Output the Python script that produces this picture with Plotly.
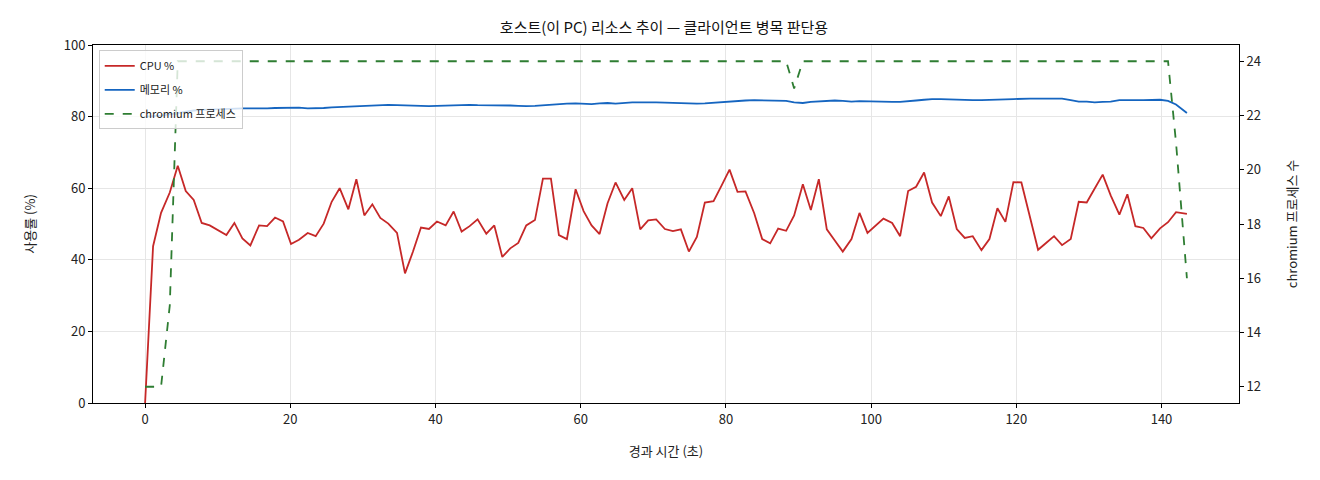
import plotly.graph_objects as go

# 경과 시간 (초)
elapsed_s = [
    0.0, 1.1, 2.2, 3.4, 4.5, 5.6, 6.7, 7.8, 8.9, 10.1,
    11.2, 12.3, 13.4, 14.5, 15.7, 16.8, 17.9, 19.0, 20.1, 21.2,
    22.4, 23.5, 24.6, 25.7, 26.8, 28.0, 29.1, 30.2, 31.3, 32.4,
    33.5, 34.7, 35.8, 36.9, 38.0, 39.1, 40.2, 41.4, 42.5, 43.6,
    44.7, 45.8, 47.0, 48.1, 49.2, 50.3, 51.4, 52.5, 53.7, 54.8,
    55.9, 57.0, 58.1, 59.3, 60.4, 61.5, 62.6, 63.7, 64.8, 66.0,
    67.1, 68.2, 69.3, 70.4, 71.6, 72.7, 73.8, 74.9, 76.0, 77.1,
    78.3, 79.4, 80.5, 81.6, 82.7, 83.9, 85.0, 86.1, 87.2, 88.3,
    89.4, 90.6, 91.7, 92.8, 93.9, 95.0, 96.1, 97.3, 98.4, 99.5,
    100.6, 101.7, 102.9, 104.0, 105.1, 106.2, 107.3, 108.4, 109.6, 110.7,
    111.8, 112.9, 114.0, 115.2, 116.3, 117.4, 118.5, 119.6, 120.7, 121.9,
    123.0, 124.1, 125.2, 126.3, 127.5, 128.6, 129.7, 130.8, 131.9, 133.0,
    134.2, 135.3, 136.4, 137.5, 138.6, 139.8, 140.9, 142.0, 143.5,
]

cpu_pct = [
    0.0, 43.8, 53.1, 58.8, 66.3, 59.2, 56.7, 50.3, 49.6, 48.3,
    46.9, 50.3, 46.0, 44.0, 49.6, 49.4, 51.8, 50.7, 44.4, 45.6,
    47.5, 46.6, 50.1, 56.2, 60.0, 54.1, 62.5, 52.4, 55.5, 51.7,
    50.1, 47.5, 36.2, 42.3, 49.0, 48.6, 50.7, 49.6, 53.5, 47.9,
    49.4, 51.3, 47.3, 49.6, 40.8, 43.2, 44.7, 49.6, 51.1, 62.7,
    62.7, 46.9, 45.8, 59.7, 53.6, 49.6, 47.2, 55.8, 61.6, 56.7,
    60.0, 48.5, 51.0, 51.3, 48.6, 48.0, 48.5, 42.3, 46.4, 56.0,
    56.4, 60.7, 65.2, 59.0, 59.1, 53.0, 45.8, 44.6, 48.7, 48.1,
    52.4, 61.1, 53.9, 62.5, 48.5, 45.4, 42.3, 45.8, 53.1, 47.5,
    49.4, 51.5, 50.3, 46.6, 59.2, 60.4, 64.4, 56.0, 52.2, 57.7,
    48.6, 46.1, 46.6, 42.7, 45.8, 54.4, 50.6, 61.7, 61.6, 52.2,
    42.8, 44.7, 46.6, 44.1, 45.8, 56.2, 56.0, 59.9, 63.8, 58.0,
    52.6, 58.3, 49.4, 48.9, 46.0, 48.8, 50.5, 53.3, 52.8,
]

mem_pct = [
    80.0, 80.1, 80.3, 80.6, 81.0, 81.4, 81.7, 81.9, 82.0, 82.1,
    82.2, 82.2, 82.3, 82.3, 82.2, 82.3, 82.4, 82.5, 82.4, 82.5,
    82.3, 82.3, 82.4, 82.6, 82.7, 82.8, 82.9, 83.0, 83.1, 83.2,
    83.3, 83.2, 83.1, 83.0, 83.0, 82.9, 83.0, 83.1, 83.2, 83.3,
    83.3, 83.2, 83.2, 83.3, 83.2, 83.1, 83.0, 82.9, 83.0, 83.2,
    83.4, 83.5, 83.6, 83.7, 83.6, 83.5, 83.7, 83.8, 83.6, 83.9,
    84.0, 84.0, 83.9, 84.0, 83.9, 83.8, 83.7, 83.6, 83.6, 83.7,
    83.9, 84.0, 84.2, 84.3, 84.5, 84.6, 84.6, 84.5, 84.5, 84.4,
    84.0, 83.8, 84.1, 84.3, 84.4, 84.5, 84.4, 84.2, 84.3, 84.2,
    84.1, 84.0, 84.1, 84.1, 84.2, 84.5, 84.7, 84.9, 84.9, 84.8,
    84.9, 84.8, 84.6, 84.6, 84.6, 84.7, 84.8, 84.9, 85.0, 85.0,
    85.0, 85.0, 85.0, 85.0, 84.6, 84.2, 84.2, 84.0, 84.1, 84.2,
    84.6, 84.5, 84.6, 84.6, 84.6, 84.7, 84.4, 83.4, 81.0,
]

chromium_procs = (
    [12, 12, 12, 15]
    + [24] * 76          # i=4..79
    + [23]               # i=80
    + [24] * 46          # i=81..126
    + [21, 16]
)

FONT = "Noto Sans CJK KR, Noto Sans, DejaVu Sans"

fig = go.Figure()

fig.add_trace(go.Scatter(
    x=elapsed_s, y=cpu_pct, mode="lines", name="CPU %", legendgroup="cpu",
    line=dict(color="#c62828", width=1.8),
))
fig.add_trace(go.Scatter(
    x=elapsed_s, y=mem_pct, mode="lines", name="메모리 %", legendgroup="mem",
    line=dict(color="#1565c0", width=1.8),
))
fig.add_trace(go.Scatter(
    x=elapsed_s, y=chromium_procs, mode="lines", name="chromium 프로세스",
    legendgroup="proc",
    line=dict(color="#2e7d32", width=1.8, dash="dash"),
    yaxis="y2",
))

axis_common = dict(
    showline=True, linecolor="black", linewidth=1,
    ticks="outside", ticklen=4, tickcolor="black",
    tickfont=dict(size=13, color="#222"),
    zeroline=False,
)

# page body has an 8px margin, so the figure is a bit smaller than the window
fig.update_layout(
    width=1312, height=472, autosize=False,
    margin=dict(l=85, r=81, t=37, b=77),
    paper_bgcolor="white", plot_bgcolor="white",
    font=dict(family=FONT, color="#222"),
    title=dict(
        text="호스트(이 PC) 리소스 추이 — 클라이언트 병목 판단용",
        x=0.5, xanchor="center", y=0.958, yanchor="middle",
        font=dict(size=15, color="#111"),
    ),
    xaxis=dict(
        **axis_common, mirror=True,
        range=[-7.175, 150.675], dtick=20,
        showgrid=True, gridcolor="#e6e6e6", gridwidth=1,
        title=dict(text="경과 시간 (초)", font=dict(size=13), standoff=20),
    ),
    yaxis=dict(
        **axis_common, mirror=True,
        range=[0, 100], dtick=20,
        showgrid=True, gridcolor="#e6e6e6", gridwidth=1,
        title=dict(text="사용률 (%)", font=dict(size=13), standoff=25),
    ),
    yaxis2=dict(
        **axis_common,
        overlaying="y", side="right",
        range=[11.4, 24.6], dtick=2, showgrid=False,
        title=dict(text="chromium 프로세스 수", font=dict(size=13), standoff=27),
    ),
    legend=dict(
        x=0.005, y=0.985, xanchor="left", yanchor="top",
        bgcolor="rgba(255,255,255,0.8)", bordercolor="#cccccc", borderwidth=1,
        font=dict(size=11), tracegroupgap=5,
    ),
    showlegend=True,
)

fig.write_html("out.html")
